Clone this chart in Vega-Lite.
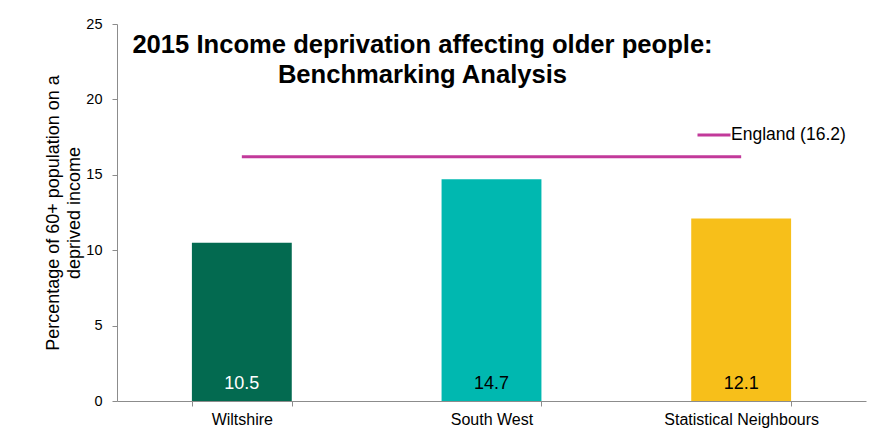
{
  "$schema": "https://vega.github.io/schema/vega-lite/v6.json",
  "width": 749,
  "height": 377,
  "autosize": {"type": "none"},
  "padding": {"left": 117, "top": 24, "right": 24, "bottom": 40},
  "background": "white",
  "config": {
    "font": "Liberation Sans",
    "view": {"stroke": null},
    "axis": {"grid": false, "domainColor": "#8c8c8c", "tickColor": "#8c8c8c", "labelColor": "#000000", "titleColor": "#000000", "labelFont": "Liberation Sans", "titleFont": "Liberation Sans"}
  },
  "title": {
    "text": ["2015 Income deprivation affecting older people:", "Benchmarking Analysis"],
    "anchor": "middle",
    "frame": "group",
    "fontSize": 25.6,
    "fontWeight": "bold",
    "color": "#000000",
    "lineHeight": 30,
    "baseline": "middle",
    "dx": -69,
    "dy": 89
  },
  "datasets": {
    "areas": [
      {"area": "Wiltshire", "value": 10.5},
      {"area": "South West", "value": 14.7},
      {"area": "Statistical Neighbours", "value": 12.1}
    ],
    "benchmark": [
      {"series": "England (16.2)", "from": "Wiltshire", "to": "Statistical Neighbours", "value": 16.2}
    ]
  },
  "layer": [
    {
      "data": {"name": "areas"},
      "mark": {"type": "bar"},
      "encoding": {
        "x": {
          "field": "area", "type": "nominal", "sort": null,
          "scale": {"domain": ["Wiltshire", "South West", "Statistical Neighbours"], "paddingInner": 0.6, "paddingOuter": 0.3},
          "axis": {"title": null, "labelAngle": 0, "labelFontSize": 16, "labelPadding": 5, "tickSize": 5, "tickBand": "extent"}
        },
        "y": {
          "field": "value", "type": "quantitative",
          "scale": {"domain": [0, 25], "nice": false},
          "axis": {
            "values": [0, 5, 10, 15, 20, 25],
            "title": ["Percentage of 60+ population on a", "deprived income"],
            "titleFontSize": 18, "titleFontWeight": "normal", "titleLineHeight": 21,
            "labelFontSize": 14.5, "labelPadding": 10, "tickSize": 5, "titlePadding": 2
          }
        },
        "color": {
          "field": "area", "type": "nominal",
          "scale": {"domain": ["Wiltshire", "South West", "Statistical Neighbours"], "range": ["#036A50", "#00B8B0", "#F7BF1A"]},
          "legend": null
        }
      }
    },
    {
      "data": {"name": "areas"},
      "mark": {"type": "text", "fontSize": 18, "baseline": "middle", "dy": -17},
      "encoding": {
        "x": {"field": "area", "type": "nominal", "sort": null},
        "y": {"datum": 0},
        "text": {"field": "value", "type": "quantitative", "format": ".1f"},
        "color": {"condition": {"test": "datum.area === 'Wiltshire'", "value": "#ffffff"}, "value": "#000000"}
      }
    },
    {
      "data": {"name": "benchmark"},
      "mark": {"type": "rule", "strokeWidth": 3},
      "encoding": {
        "x": {"field": "from", "type": "nominal", "sort": null},
        "x2": {"field": "to"},
        "y": {"field": "value", "type": "quantitative"},
        "color": {
          "field": "series", "type": "nominal",
          "scale": {"range": ["#C2399A"]},
          "legend": {
            "title": null, "orient": "none", "legendX": 579, "legendY": 93,
            "symbolType": "stroke", "symbolSize": 1089, "symbolStrokeWidth": 3,
            "labelFontSize": 17.5, "labelColor": "#000000", "labelOffset": -1, "padding": 0
          }
        }
      }
    }
  ],
  "resolve": {"scale": {"color": "independent"}}
}
